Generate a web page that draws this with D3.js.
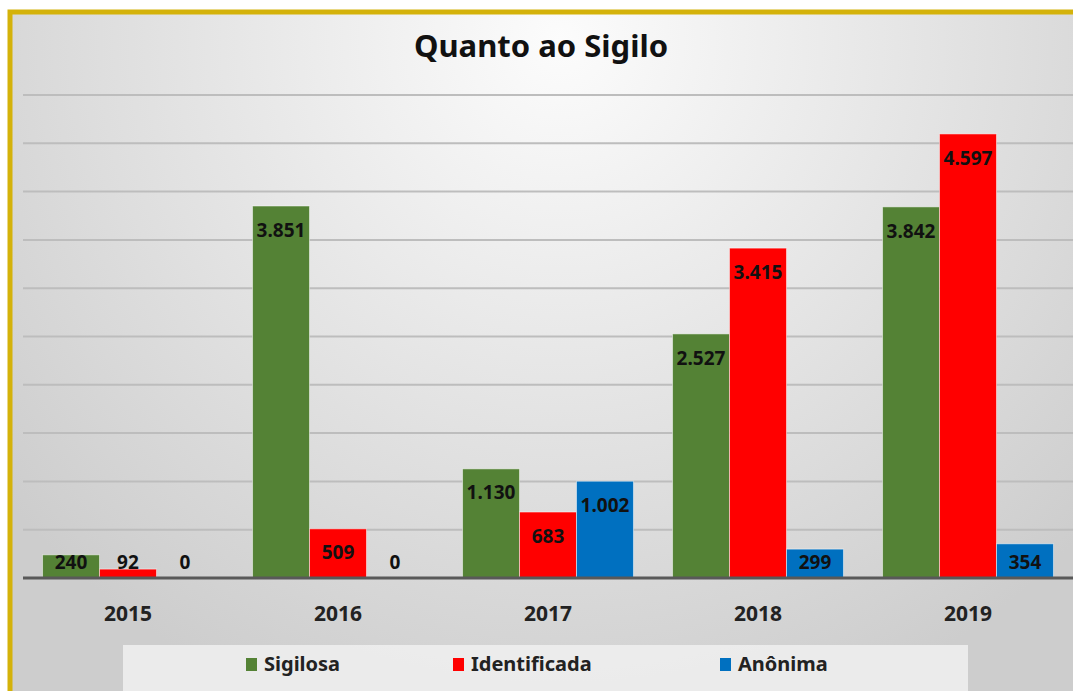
<!DOCTYPE html>
<html>
<head>
<meta charset="utf-8">
<script src="https://cdn.jsdelivr.net/npm/d3@7"></script>
<style>
  body { margin: 0; background: #fff; overflow: hidden; }
  svg { display: block; font-family: "Noto Sans", "Open Sans", sans-serif; }
</style>
</head>
<body>
<svg></svg>
<script>
// Chart size
const width = 1073, height = 691;
const margin = { top: 95, right: 0, bottom: 113, left: 23 };

// Data
const years = ["2015", "2016", "2017", "2018", "2019"];
const seriesNames = ["Sigilosa", "Identificada", "Anônima"];
const sigilosa = [240, 3851, 1130, 2527, 3842];
const identificada = [92, 509, 683, 3415, 4597];
const anonima = [0, 0, 1002, 299, 354];
const yTicks = [0, 500, 1000, 1500, 2000, 2500, 3000, 3500, 4000, 4500, 5000];
const colors = ["#548235", "#ff0000", "#0070c0"];

const seriesValues = [sigilosa, identificada, anonima];
const fmt = v => d3.format(",")(v).replace(/,/g, ".");

const svg = d3.select("svg")
    .attr("width", width)
    .attr("height", height);

// Background gradient
const defs = svg.append("defs");
const grad = defs.append("radialGradient")
    .attr("id", "bg")
    .attr("gradientUnits", "userSpaceOnUse")
    .attr("cx", 560).attr("cy", 40).attr("r", 720);
grad.append("stop").attr("offset", "0%").attr("stop-color", "#fcfcfc");
grad.append("stop").attr("offset", "100%").attr("stop-color", "#cdcdcd");

svg.append("rect")
    .attr("x", 10).attr("y", 12)
    .attr("width", width + 200).attr("height", height + 200)
    .attr("fill", "url(#bg)")
    .attr("stroke", "#d4b20a")
    .attr("stroke-width", 5);

// Scales
const x0 = d3.scaleBand()
    .domain(years)
    .range([margin.left, width - margin.right])
    .paddingInner(0.186)
    .paddingOuter(0.093);

const x1 = d3.scaleBand()
    .domain(seriesNames)
    .range([0, x0.bandwidth()]);

const y = d3.scaleLinear()
    .domain([0, 5000])
    .range([height - margin.bottom, margin.top]);

// Gridlines
svg.append("g")
    .selectAll("line")
    .data(yTicks.slice(1))
    .join("line")
    .attr("x1", margin.left)
    .attr("x2", width)
    .attr("y1", d => y(d))
    .attr("y2", d => y(d))
    .attr("stroke", "#bdbdbd")
    .attr("stroke-width", 2);

// Title
svg.append("text")
    .attr("x", 541)
    .attr("y", 57)
    .attr("text-anchor", "middle")
    .attr("font-size", 31)
    .attr("font-weight", "bold")
    .attr("fill", "#111")
    .text("Quanto ao Sigilo");

// Bars
const groups = svg.append("g")
    .selectAll("g")
    .data(years)
    .join("g")
    .attr("transform", d => `translate(${x0(d)},0)`);

const cells = groups.selectAll("g")
    .data((d, i) => seriesNames.map((s, j) => ({ series: s, j: j, value: seriesValues[j][i] })))
    .join("g");

cells.append("rect")
    .attr("x", d => x1(d.series))
    .attr("width", x1.bandwidth())
    .attr("y", d => y(d.value))
    .attr("height", d => y(0) - y(d.value))
    .attr("fill", d => colors[d.j])
    .attr("stroke", "rgba(255,255,255,0.5)")
    .attr("stroke-width", d => d.value > 0 ? 1 : 0);

// Value labels (inside end, clamped above baseline)
cells.append("text")
    .attr("x", d => x1(d.series) + x1.bandwidth() / 2)
    .attr("y", d => Math.min(y(d.value) + 24, y(0) - 16))
    .attr("dy", "0.35em")
    .attr("text-anchor", "middle")
    .attr("font-size", 19)
    .attr("font-weight", "bold")
    .attr("fill", "#111")
    .text(d => fmt(d.value));

// Baseline and x axis
const xAxis = svg.append("g")
    .attr("transform", `translate(0,${y(0)})`)
    .call(d3.axisBottom(x0).tickSize(0).tickPadding(28));
xAxis.select(".domain")
    .attr("d", `M${margin.left},0H${width}`)
    .attr("stroke", "#595959")
    .attr("stroke-width", 3);
xAxis.selectAll("text")
    .attr("font-size", 21)
    .attr("font-weight", "bold")
    .attr("font-family", "\"Noto Sans\", sans-serif")
    .attr("fill", "#222");

// Legend
svg.append("rect")
    .attr("x", 123).attr("y", 645)
    .attr("width", 845).attr("height", 50)
    .attr("fill", "#f0f0f0")
    .attr("opacity", 0.85);

const legendX = [246, 453, 720];
const legend = svg.append("g")
    .selectAll("g")
    .data(seriesNames)
    .join("g")
    .attr("transform", (d, i) => `translate(${legendX[i]},658)`);

legend.append("rect")
    .attr("width", 11).attr("height", 13)
    .attr("fill", (d, i) => colors[i]);

legend.append("text")
    .attr("x", 18)
    .attr("y", 13)
    .attr("font-size", 20)
    .attr("font-weight", "bold")
    .attr("fill", "#222")
    .text(d => d);
</script>
</body>
</html>
